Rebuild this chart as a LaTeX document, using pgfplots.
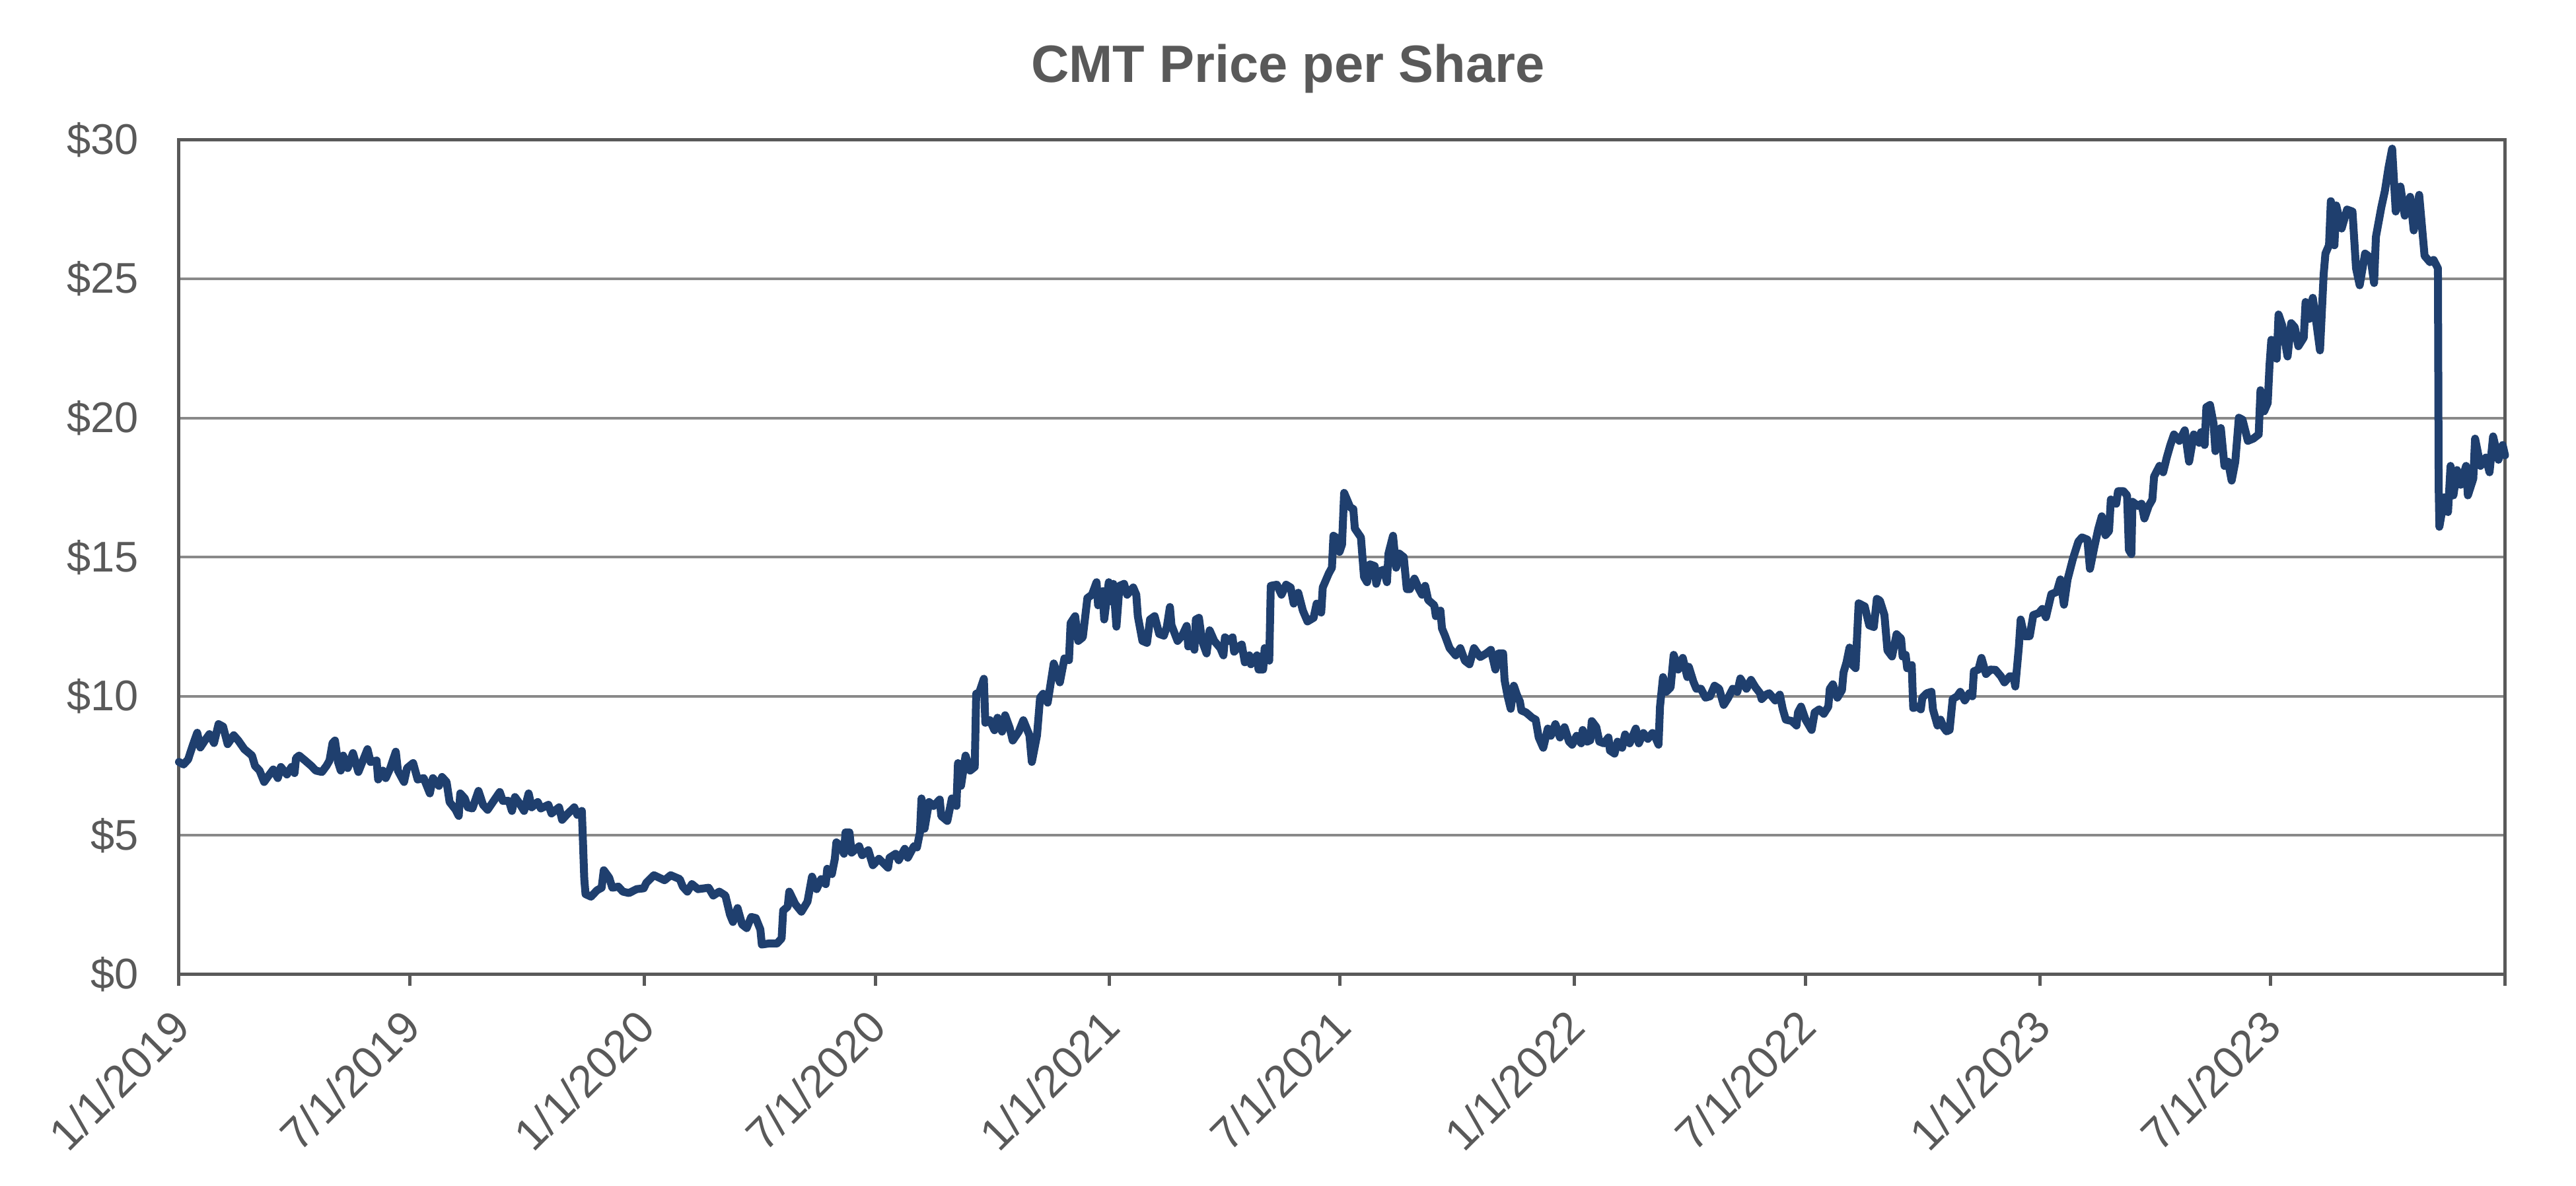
\documentclass[border=0pt]{standalone}
\usepackage{pgfplots}
\usepackage{pgfplotstable}
\pgfplotsset{compat=1.18}
\usepackage{fontspec}
\setmainfont{Liberation Sans}
\definecolor{txt}{HTML}{595959}
\definecolor{grd}{HTML}{898989}
\definecolor{cmtblue}{HTML}{1F3F6E}
\pgfplotstableread{
t p
2019.0000 7.64
2019.0098 7.55
2019.0196 7.73
2019.0294 8.23
2019.0392 8.69
2019.0458 8.16
2019.0556 8.41
2019.0654 8.64
2019.0752 8.32
2019.0850 9.00
2019.0948 8.91
2019.1046 8.28
2019.1176 8.60
2019.1275 8.41
2019.1405 8.10
2019.1569 7.87
2019.1634 7.50
2019.1732 7.33
2019.1830 6.92
2019.1928 7.15
2019.2026 7.37
2019.2124 7.06
2019.2190 7.46
2019.2320 7.19
2019.2418 7.46
2019.2484 7.24
2019.2516 7.78
2019.2582 7.87
2019.2712 7.69
2019.2843 7.50
2019.2941 7.33
2019.3072 7.28
2019.3170 7.50
2019.3235 7.69
2019.3301 8.32
2019.3353 8.41
2019.3418 7.64
2019.3477 7.33
2019.3529 7.87
2019.3627 7.42
2019.3739 7.96
2019.3856 7.28
2019.3954 7.69
2019.4052 8.10
2019.4118 7.64
2019.4248 7.69
2019.4281 7.01
2019.4379 7.33
2019.4444 7.06
2019.4542 7.42
2019.4660 8.01
2019.4706 7.33
2019.4837 6.92
2019.4902 7.42
2019.5033 7.60
2019.5131 7.01
2019.5261 7.06
2019.5392 6.51
2019.5458 7.06
2019.5588 6.78
2019.5654 7.10
2019.5752 6.92
2019.5817 6.20
2019.5948 5.92
2019.6013 5.70
2019.6046 6.51
2019.6144 6.33
2019.6209 6.01
2019.6307 5.97
2019.6438 6.60
2019.6536 6.10
2019.6634 5.92
2019.6895 6.56
2019.6961 6.24
2019.7092 6.24
2019.7157 5.88
2019.7222 6.38
2019.7320 6.15
2019.7418 5.88
2019.7516 6.51
2019.7582 6.01
2019.7712 6.20
2019.7778 5.97
2019.7941 6.10
2019.8007 5.79
2019.8170 6.01
2019.8235 5.56
2019.8333 5.74
2019.8497 6.01
2019.8562 5.74
2019.8660 5.88
2019.8712 3.43
2019.8739 2.89
2019.8856 2.80
2019.8987 3.03
2019.9085 3.12
2019.9131 3.75
2019.9248 3.48
2019.9314 3.12
2019.9444 3.16
2019.9542 2.98
2019.9673 2.93
2019.9837 3.07
2019.9990 3.10
2020.0046 3.30
2020.0209 3.57
2020.0438 3.39
2020.0569 3.57
2020.0765 3.43
2020.0830 3.16
2020.0928 2.98
2020.1026 3.25
2020.1157 3.07
2020.1386 3.12
2020.1484 2.84
2020.1614 2.98
2020.1745 2.84
2020.1843 2.16
2020.1908 1.89
2020.2007 2.39
2020.2105 1.80
2020.2203 1.67
2020.2301 2.07
2020.2399 2.03
2020.2497 1.62
2020.2529 1.08
2020.2693 1.12
2020.2856 1.12
2020.2954 1.30
2020.2987 2.30
2020.3085 2.44
2020.3118 2.98
2020.3248 2.53
2020.3379 2.26
2020.3510 2.62
2020.3608 3.52
2020.3706 3.07
2020.3804 3.43
2020.3902 3.25
2020.3935 3.80
2020.4033 3.61
2020.4098 4.16
2020.4131 4.75
2020.4229 4.61
2020.4294 4.34
2020.4327 5.11
2020.4412 5.11
2020.4458 4.38
2020.4621 4.61
2020.4686 4.29
2020.4817 4.47
2020.4915 3.93
2020.5046 4.16
2020.5242 3.84
2020.5275 4.20
2020.5405 4.34
2020.5471 4.11
2020.5601 4.52
2020.5667 4.20
2020.5797 4.61
2020.5863 4.57
2020.5928 5.11
2020.5961 6.33
2020.6026 5.24
2020.6124 6.20
2020.6222 6.06
2020.6353 6.29
2020.6386 5.70
2020.6516 5.52
2020.6614 6.33
2020.6712 6.06
2020.6745 7.60
2020.6810 6.78
2020.6908 7.87
2020.7007 7.33
2020.7105 7.46
2020.7137 10.09
2020.7203 10.14
2020.7301 10.63
2020.7333 9.05
2020.7431 9.14
2020.7529 8.78
2020.7595 9.23
2020.7693 8.73
2020.7758 9.32
2020.7856 8.87
2020.7922 8.41
2020.8052 8.73
2020.8150 9.14
2020.8281 8.60
2020.8333 7.64
2020.8444 8.60
2020.8510 9.95
2020.8575 10.09
2020.8673 9.77
2020.8804 11.18
2020.8935 10.50
2020.9033 11.36
2020.9131 11.30
2020.9166 12.63
2020.9264 12.88
2020.9330 11.99
2020.9428 12.12
2020.9527 13.53
2020.9625 13.65
2020.9724 14.10
2020.9757 13.27
2020.9855 13.78
2020.9888 12.76
2020.9987 14.10
2021.0053 13.40
2021.0085 14.04
2021.0151 12.50
2021.0217 13.97
2021.0315 14.04
2021.0381 13.65
2021.0512 13.91
2021.0578 13.65
2021.0611 12.88
2021.0710 11.99
2021.0808 11.92
2021.0874 12.76
2021.0972 12.88
2021.1071 12.24
2021.1170 12.18
2021.1235 12.50
2021.1301 13.21
2021.1334 12.56
2021.1465 11.99
2021.1564 12.18
2021.1662 12.53
2021.1695 11.79
2021.1794 11.99
2021.1827 11.67
2021.1859 12.76
2021.1925 12.82
2021.1991 11.99
2021.2089 11.54
2021.2155 12.37
2021.2254 11.99
2021.2385 11.73
2021.2451 11.47
2021.2484 12.12
2021.2582 11.99
2021.2648 12.12
2021.2681 11.60
2021.2779 11.79
2021.2845 11.86
2021.2911 11.22
2021.3009 11.47
2021.3042 11.15
2021.3173 11.47
2021.3206 10.96
2021.3305 10.96
2021.3338 11.73
2021.3436 11.28
2021.3469 13.97
2021.3600 14.01
2021.3699 13.65
2021.3798 14.01
2021.3896 13.91
2021.3962 13.33
2021.4060 13.72
2021.4159 13.08
2021.4258 12.69
2021.4389 12.82
2021.4455 13.33
2021.4553 13.01
2021.4586 13.91
2021.4717 14.42
2021.4783 14.62
2021.4816 15.77
2021.4869 15.71
2021.4947 15.19
2021.5000 15.45
2021.5046 17.31
2021.5079 17.18
2021.5177 16.79
2021.5243 16.73
2021.5276 16.03
2021.5407 15.71
2021.5473 14.29
2021.5539 14.10
2021.5604 14.74
2021.5703 14.68
2021.5736 14.04
2021.5802 14.49
2021.5900 14.55
2021.5966 14.10
2021.5999 15.13
2021.6097 15.77
2021.6163 14.62
2021.6229 15.13
2021.6327 15.00
2021.6393 13.85
2021.6459 13.85
2021.6557 14.23
2021.6656 13.85
2021.6721 13.65
2021.6787 13.97
2021.6853 13.46
2021.6984 13.27
2021.7017 12.88
2021.7116 13.08
2021.7149 12.44
2021.7214 12.18
2021.7313 11.73
2021.7444 11.47
2021.7543 11.73
2021.7641 11.28
2021.7740 11.15
2021.7838 11.73
2021.7970 11.41
2021.8101 11.54
2021.8200 11.67
2021.8298 10.96
2021.8364 11.54
2021.8463 11.54
2021.8495 10.58
2021.8561 10.00
2021.8627 9.55
2021.8693 10.38
2021.8758 10.06
2021.8824 9.81
2021.8857 9.49
2021.8955 9.42
2021.9087 9.23
2021.9163 9.16
2021.9229 8.52
2021.9326 8.15
2021.9424 8.84
2021.9489 8.58
2021.9587 9.00
2021.9685 8.52
2021.9783 8.89
2021.9881 8.37
2021.9946 8.26
2022.0044 8.58
2022.0141 8.31
2022.0174 8.79
2022.0272 8.37
2022.0337 8.42
2022.0369 9.11
2022.0467 8.89
2022.0532 8.37
2022.0630 8.31
2022.0728 8.52
2022.0761 8.05
2022.0858 7.94
2022.0923 8.37
2022.1021 8.15
2022.1086 8.63
2022.1184 8.31
2022.1315 8.84
2022.1380 8.31
2022.1478 8.68
2022.1575 8.47
2022.1673 8.68
2022.1738 8.52
2022.1804 8.26
2022.1836 9.63
2022.1901 10.69
2022.1967 10.16
2022.2064 10.32
2022.2130 11.49
2022.2227 10.96
2022.2325 11.38
2022.2423 10.69
2022.2455 11.06
2022.2553 10.53
2022.2618 10.27
2022.2716 10.27
2022.2814 9.95
2022.2911 10.00
2022.3009 10.38
2022.3107 10.27
2022.3205 9.69
2022.3303 9.95
2022.3400 10.27
2022.3498 10.16
2022.3563 10.64
2022.3694 10.27
2022.3792 10.59
2022.3889 10.32
2022.3987 10.11
2022.4020 9.90
2022.4118 10.06
2022.4183 10.11
2022.4313 9.85
2022.4411 10.06
2022.4476 9.53
2022.4541 9.16
2022.4672 9.11
2022.4770 8.95
2022.4802 9.42
2022.4867 9.63
2022.4965 9.16
2022.5095 8.79
2022.5161 9.42
2022.5258 9.53
2022.5356 9.37
2022.5454 9.63
2022.5486 10.27
2022.5552 10.43
2022.5649 9.95
2022.5747 10.22
2022.5780 10.85
2022.5845 11.22
2022.5910 11.75
2022.5975 11.12
2022.6040 11.01
2022.6106 13.34
2022.6236 13.23
2022.6334 12.55
2022.6432 12.49
2022.6497 13.50
2022.6562 13.44
2022.6660 12.92
2022.6725 11.65
2022.6823 11.43
2022.6921 12.23
2022.7018 12.07
2022.7051 11.43
2022.7116 11.49
2022.7149 11.01
2022.7247 11.12
2022.7279 9.58
2022.7377 9.63
2022.7442 9.53
2022.7475 9.95
2022.7573 10.11
2022.7670 10.16
2022.7703 9.53
2022.7801 8.95
2022.7866 9.16
2022.7931 8.89
2022.7996 8.74
2022.8061 8.79
2022.8127 9.90
2022.8224 10.00
2022.8290 10.16
2022.8387 9.85
2022.8485 10.11
2022.8550 10.00
2022.8583 10.90
2022.8681 10.96
2022.8746 11.38
2022.8844 10.80
2022.8942 10.96
2022.9047 10.95
2022.9163 10.72
2022.9240 10.50
2022.9357 10.72
2022.9434 10.72
2022.9473 10.35
2022.9550 11.78
2022.9589 12.76
2022.9667 12.16
2022.9783 12.16
2022.9860 12.92
2022.9977 12.99
2023.0054 13.14
2023.0132 12.84
2023.0248 13.67
2023.0364 13.75
2023.0442 14.20
2023.0519 13.29
2023.0597 14.20
2023.0713 14.95
2023.0829 15.56
2023.0907 15.71
2023.1023 15.63
2023.1078 14.58
2023.1178 15.41
2023.1256 16.01
2023.1333 16.47
2023.1411 15.79
2023.1488 15.94
2023.1527 17.07
2023.1643 16.92
2023.1682 17.37
2023.1798 17.37
2023.1876 17.22
2023.1915 15.26
2023.1969 15.11
2023.1992 16.99
2023.2109 16.84
2023.2186 16.92
2023.2248 16.39
2023.2341 16.84
2023.2419 17.07
2023.2457 17.90
2023.2574 18.28
2023.2651 18.05
2023.2729 18.58
2023.2806 19.03
2023.2884 19.41
2023.3000 19.18
2023.3116 19.56
2023.3209 18.43
2023.3310 19.41
2023.3426 19.11
2023.3465 19.49
2023.3543 19.03
2023.3581 20.39
2023.3659 20.47
2023.3736 19.79
2023.3775 18.81
2023.3891 19.64
2023.3969 18.28
2023.4047 18.43
2023.4124 17.75
2023.4202 18.43
2023.4279 20.01
2023.4357 19.94
2023.4473 19.18
2023.4589 19.26
2023.4705 19.41
2023.4744 21.00
2023.4822 20.24
2023.4899 20.54
2023.4938 21.90
2023.4977 22.81
2023.5093 22.13
2023.5132 23.72
2023.5209 23.34
2023.5326 22.21
2023.5403 23.41
2023.5481 23.26
2023.5558 22.58
2023.5674 22.89
2023.5713 24.17
2023.5791 23.56
2023.5868 24.32
2023.5946 23.41
2023.6023 22.43
2023.6101 25.15
2023.6140 25.91
2023.6217 26.21
2023.6256 27.79
2023.6333 26.21
2023.6372 27.64
2023.6488 26.81
2023.6605 27.49
2023.6721 27.42
2023.6798 25.38
2023.6876 24.77
2023.6992 25.91
2023.7109 25.76
2023.7186 24.85
2023.7225 26.51
2023.7341 27.57
2023.7419 28.17
2023.7496 29.00
2023.7574 29.68
2023.7651 27.42
2023.7752 28.32
2023.7845 27.27
2023.7961 27.95
2023.8039 26.74
2023.8155 28.02
2023.8271 25.83
2023.8388 25.60
2023.8465 25.68
2023.8558 25.38
2023.8574 17.52
2023.8589 16.09
2023.8698 17.15
2023.8775 16.62
2023.8829 18.28
2023.8891 17.22
2023.8969 18.13
2023.9047 17.60
2023.9163 18.28
2023.9202 17.22
2023.9318 17.82
2023.9357 19.26
2023.9473 18.28
2023.9589 18.58
2023.9667 18.05
2023.9744 19.34
2023.9860 18.50
2023.9950 19.03
2024.0000 18.66
}\cmt

\begin{document}
\begin{tikzpicture}
\begin{axis}[
  scale only axis,
  width=704.3pt, height=252.7pt,
  xmin=2019, xmax=2024, ymin=0, ymax=30,
  axis line style={txt, line width=1pt},
  ymajorgrids,
  grid style={grd, line width=0.8pt},
  ytick={0,5,...,30},
  yticklabels={\$0,\$5,\$10,\$15,\$20,\$25,\$30},
  xtick={2019,2019.496,2020,2020.497,2021,2021.496,2022,2022.496,2023,2023.496,2024},
  xticklabels={1/1/2019,7/1/2019,1/1/2020,7/1/2020,1/1/2021,7/1/2021,1/1/2022,7/1/2022,1/1/2023,7/1/2023,{}},
  xtick pos=bottom, ytick pos=left,
  xtick align=outside,
  major tick length=3.5pt,
  ytick style={draw=none},
  xtick style={txt, line width=1pt},
  tick label style={text=txt},
  yticklabel style={font=\fontsize{13}{15}\selectfont, anchor=east, inner sep=0pt, xshift=-12pt},
  xticklabel style={font=\fontsize{13.6}{16}\selectfont, inner sep=0pt, xshift=-3pt, yshift=-6pt, rotate=45, anchor=north east},
  /pgf/number format/assume math mode=true,
  clip=false,
]
\addplot[cmtblue, line width=2.4pt, line join=round, line cap=round] table[x=t,y=p]{\cmt};
\end{axis}
\node[anchor=base, font=\bfseries\fontsize{15.9}{19}\selectfont, text=txt] at (335.8pt,270.1pt) {CMT Price per Share};
\pgfresetboundingbox
\path (-54.2pt,-64pt) rectangle (725.8pt,295pt);
\end{tikzpicture}
\end{document}
